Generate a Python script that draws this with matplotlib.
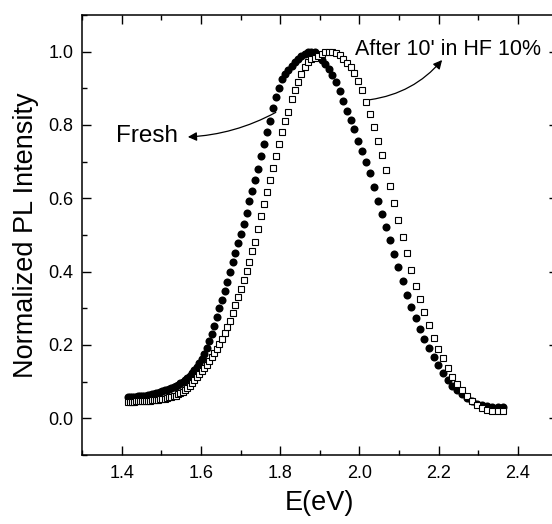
import numpy as np
import matplotlib.pyplot as plt
from matplotlib.ticker import MultipleLocator

plt.rcParams['font.family'] = ['Liberation Sans', 'DejaVu Sans']

# photon energies of the PL spectra (eV), same grid for both samples
energy = [
    1.4155, 1.4204, 1.4253, 1.4302, 1.4352, 1.4402, 1.4452, 1.4503, 1.4554, 1.4605,
    1.4657, 1.4709, 1.4762, 1.4815, 1.4868, 1.4922, 1.4976, 1.5030, 1.5085, 1.5140,
    1.5196, 1.5252, 1.5309, 1.5366, 1.5423, 1.5481, 1.5539, 1.5597, 1.5657, 1.5716,
    1.5776, 1.5837, 1.5897, 1.5959, 1.6021, 1.6083, 1.6146, 1.6209, 1.6273, 1.6337,
    1.6402, 1.6467, 1.6533, 1.6600, 1.6667, 1.6734, 1.6802, 1.6871, 1.6940, 1.7010,
    1.7080, 1.7151, 1.7222, 1.7294, 1.7367, 1.7440, 1.7514, 1.7589, 1.7664, 1.7740,
    1.7816, 1.7893, 1.7971, 1.8050, 1.8129, 1.8209, 1.8289, 1.8370, 1.8452, 1.8535,
    1.8619, 1.8703, 1.8788, 1.8874, 1.8960, 1.9048, 1.9136, 1.9225, 1.9315, 1.9405,
    1.9497, 1.9589, 1.9683, 1.9777, 1.9872, 1.9968, 2.0065, 2.0163, 2.0261, 2.0361,
    2.0462, 2.0564, 2.0667, 2.0771, 2.0875, 2.0981, 2.1088, 2.1197, 2.1306, 2.1416,
    2.1528, 2.1640, 2.1754, 2.1869, 2.1986, 2.2103, 2.2222, 2.2342, 2.2464, 2.2587,
    2.2711, 2.2836, 2.2963, 2.3091, 2.3221, 2.3352, 2.3485, 2.3619,
]

# fresh sample (filled circles)
fresh = [
    0.058, 0.058, 0.058, 0.059, 0.059, 0.060, 0.060, 0.061, 0.062, 0.062,
    0.063, 0.064, 0.066, 0.067, 0.069, 0.070, 0.072, 0.074, 0.076, 0.078,
    0.080, 0.083, 0.086, 0.089, 0.092, 0.096, 0.100, 0.105, 0.110, 0.116,
    0.123, 0.131, 0.140, 0.150, 0.162, 0.176, 0.192, 0.210, 0.231, 0.253,
    0.277, 0.300, 0.323, 0.346, 0.372, 0.398, 0.425, 0.452, 0.477, 0.503,
    0.531, 0.561, 0.592, 0.620, 0.650, 0.681, 0.715, 0.748, 0.782, 0.812,
    0.845, 0.877, 0.902, 0.925, 0.940, 0.950, 0.960, 0.971, 0.981, 0.988,
    0.994, 0.998, 1.000, 0.999, 0.992, 0.978, 0.966, 0.954, 0.937, 0.916,
    0.893, 0.866, 0.839, 0.814, 0.789, 0.755, 0.728, 0.698, 0.668, 0.631,
    0.594, 0.558, 0.522, 0.486, 0.449, 0.412, 0.374, 0.336, 0.304, 0.273,
    0.244, 0.217, 0.191, 0.168, 0.145, 0.124, 0.104, 0.089, 0.076, 0.065,
    0.055, 0.047, 0.040, 0.036, 0.033, 0.032, 0.031, 0.031,
]

# after 10' in HF 10% (open squares)
etched = [
    0.045, 0.045, 0.045, 0.045, 0.046, 0.046, 0.046, 0.047, 0.047, 0.047,
    0.048, 0.048, 0.049, 0.049, 0.050, 0.051, 0.052, 0.053, 0.054, 0.055,
    0.057, 0.058, 0.060, 0.062, 0.065, 0.068, 0.072, 0.077, 0.083, 0.089,
    0.097, 0.105, 0.113, 0.121, 0.129, 0.137, 0.146, 0.156, 0.166, 0.177,
    0.189, 0.202, 0.216, 0.232, 0.248, 0.265, 0.286, 0.308, 0.331, 0.354,
    0.377, 0.401, 0.426, 0.455, 0.482, 0.517, 0.551, 0.585, 0.618, 0.651,
    0.684, 0.716, 0.748, 0.782, 0.810, 0.836, 0.871, 0.896, 0.918, 0.939,
    0.958, 0.971, 0.979, 0.984, 0.988, 0.994, 0.998, 1.000, 0.999, 0.996,
    0.990, 0.980, 0.969, 0.957, 0.941, 0.921, 0.896, 0.863, 0.830, 0.795,
    0.757, 0.719, 0.676, 0.633, 0.586, 0.540, 0.495, 0.450, 0.404, 0.361,
    0.325, 0.289, 0.254, 0.220, 0.190, 0.164, 0.138, 0.113, 0.094, 0.077,
    0.061, 0.048, 0.036, 0.027, 0.023, 0.021, 0.020, 0.020,
]

fig = plt.figure(figsize=(5.52, 5.24), dpi=100)
ax = fig.add_axes([0.1486, 0.1317, 0.8616, 0.8397])

ax.plot(energy, fresh, 'o', color='black', markersize=5.8, markeredgewidth=0)
ax.plot(energy, etched, 's', markerfacecolor='white', markeredgecolor='black',
        markersize=4.4, markeredgewidth=0.8)

ax.set_xlim(1.3, 2.5)
ax.set_ylim(-0.1, 1.1)
ax.xaxis.set_major_locator(MultipleLocator(0.2))
ax.xaxis.set_minor_locator(MultipleLocator(0.1))
ax.yaxis.set_major_locator(MultipleLocator(0.2))
ax.yaxis.set_minor_locator(MultipleLocator(0.1))
ax.tick_params(which='both', direction='in', top=True, right=True, width=1)
ax.tick_params(which='major', length=6.5)
ax.tick_params(which='minor', length=3.3)
ax.tick_params(axis='x', labelsize=13, pad=7)
ax.tick_params(axis='y', labelsize=13, pad=6)
for s in ax.spines.values():
    s.set_linewidth(1.1)

ax.set_xlabel('E(eV)', fontsize=19.5, labelpad=6)
ax.set_ylabel('Normalized PL Intensity', fontsize=19.5, labelpad=7)

# labels with curved arrows
ax.text(1.386, 0.770, 'Fresh', fontsize=17.5, ha='left', va='center')
ax.annotate('', xy=(1.560, 0.767), xytext=(1.795, 0.838),
            arrowprops=dict(arrowstyle='-|>', color='black', lw=0.9,
                            mutation_scale=13,
                            connectionstyle='arc3,rad=-0.12'))
ax.text(1.990, 1.007, "After 10' in HF 10%", fontsize=15.5, ha='left', va='center')
ax.annotate('', xy=(2.213, 0.983), xytext=(2.020, 0.868),
            arrowprops=dict(arrowstyle='-|>', color='black', lw=0.9,
                            mutation_scale=13,
                            connectionstyle='arc3,rad=0.2'))

fig.savefig('out.png', dpi=100)
